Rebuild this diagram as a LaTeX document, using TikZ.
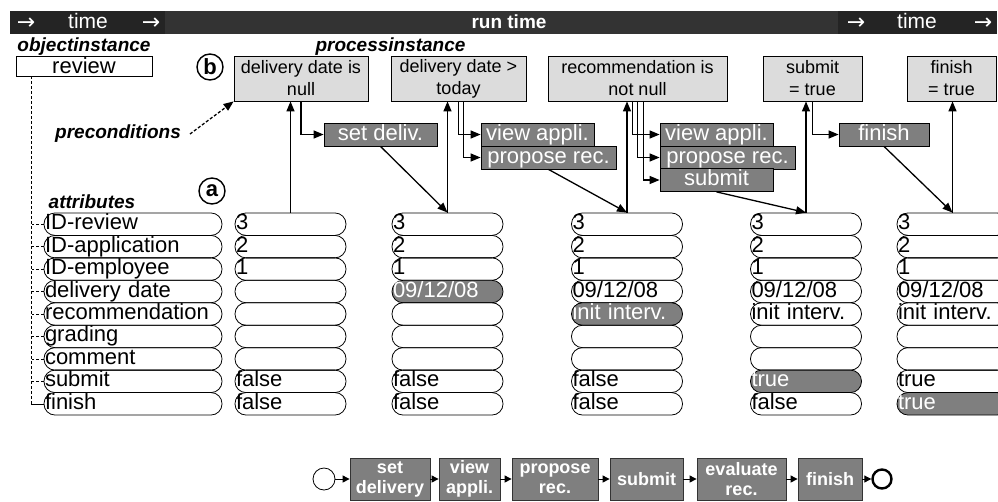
\documentclass[tikz,border=0pt]{standalone}
\usepackage{fontspec}
\setmainfont{Liberation Sans}
\newfontfamily\symfont{DejaVu Sans}
\usetikzlibrary{arrows.meta,calc}

\definecolor{actgray}{HTML}{7F7F7F}
\definecolor{precgray}{HTML}{DCDCDC}
\definecolor{barmid}{HTML}{333333}
\definecolor{barend}{HTML}{242424}

\begin{document}
\begin{tikzpicture}[x=1pt, y=-1pt,
    arr/.style={line width=1.3pt, -{Triangle[length=10pt,width=8pt]}},
    flowarr/.style={line width=1pt, -{Triangle[length=7pt,width=7pt]}},
    bartext/.style={text=white, inner sep=0pt, anchor=base, font=\fontsize{21}{21}\selectfont},
    lbl/.style={inner sep=0pt, font=\bfseries\itshape\fontsize{19}{19}\selectfont},
    letter/.style={circle, draw, line width=1.4pt, minimum size=26pt, inner sep=0pt, font=\bfseries\fontsize{22}{22}\selectfont},
    pre/.style={draw, fill=precgray, line width=0.8pt, inner sep=0pt, minimum height=45pt, align=center, font=\fontsize{18}{22}\selectfont},
    act/.style={draw, fill=actgray, text=white, line width=0.8pt, inner sep=0pt, minimum height=23pt, text height=16pt, text depth=5pt, font=\fontsize{22}{22}\selectfont},
    pill/.style={draw, rounded corners=11pt, line width=0.8pt, inner xsep=1pt, inner ysep=0pt, minimum height=22.45pt, text width=#1, align=left, text height=16pt, text depth=5pt, font=\fontsize{22}{22}\selectfont},
    hl/.style={fill=actgray, text=white},
    nohl/.style={},
    flow/.style={draw=black!80, fill=actgray, text=white, line width=0.8pt, inner sep=0pt, minimum height=42pt, align=center, font=\bfseries\fontsize{18}{20}\selectfont}]
    \clip (0,0) rectangle (998,501);

    % Laiko juosta
    \fill[barmid] (10,11) rectangle (997,34);
    \fill[barend] (10,11) rectangle (165,34);
    \fill[barend] (838,11) rectangle (997,34);
    \foreach \x in {26, 151, 856, 983} {
        \node[bartext, font=\symfont\fontsize{22}{22}\selectfont] (arrow\x) at (\x,29) {→};
    }
    \foreach \x in {88, 917} {
        \node[bartext] (time\x) at (\x,28.5) {time};
    }
    \node[bartext, font=\bfseries\fontsize{19}{19}\selectfont] (run) at (509,28.5) {run time};

    \node[lbl] (objinst) at (84,47) {objectinstance};
    \node[lbl] (procinst) at (390.5,47) {processinstance};
    \node[draw, fill=white, line width=0.8pt, inner sep=0pt, minimum width=136pt, minimum height=20pt, font=\fontsize{22}{22}\selectfont] (review) at (84,66) {review};

    \node[letter] (b) at (210,67) {b};
    \node[letter] (a) at (212,191) {a};

    % Salygos
    \foreach \n/\x/\w/\t in {1/301/134/{delivery date is\\null}, 2/458.5/135/{delivery date >\\today},
        3/637.5/179/{recommendation is\\not null}, 4/812.5/99/{submit\\= true}, 5/951.5/89/{finish\\= true}} {
        \node[pre, minimum width=\w pt] (pre\n) at (\x,78.5) {\t};
    }
    \node[lbl] (prec) at (118,134) {preconditions};
    \draw[arr, dash pattern=on 3pt off 2pt] ([xshift=9pt]prec.east) -- (pre1.south west);

    % Veiklos
    \node[act, minimum width=113pt] (setdel) at (380.5,134.5) {set deliv.};
    \node[act, minimum width=113pt] (view1) at (537.5,134.5) {view appli.};
    \node[act, minimum width=135pt] (prop1) at (548.5,157.5) {propose rec.};
    \node[act, minimum width=113pt] (view2) at (716.5,134.5) {view appli.};
    \node[act, minimum width=135pt] (prop2) at (727.5,157.5) {propose rec.};
    \node[act, minimum width=113pt] (subm) at (716.5,180) {submit};
    \node[act, minimum width=90pt] (fin1) at (884,134.5) {finish};

    \draw[arr] (pre1.south) |- (setdel.west);
    \draw[arr] (pre2.south) |- (view1.west);
    \draw[arr] ([xshift=5pt]pre2.south) |- (prop1.west);
    \draw[arr] ([xshift=-5pt]pre3.south) |- (view2.west);
    \draw[arr] (pre3.south) |- (prop2.west);
    \draw[arr] ([xshift=6pt]pre3.south) |- (subm.west);
    \draw[arr] (pre4.south) |- (fin1.west);

    % Atributai
    \node[lbl] (attrs) at (92,202) {attributes};
    \coordinate (trunk) at ([xshift=16pt]review.south west);
    \foreach \r/\h/\name/\va/\vb/\vc/\vd/\ve in {
        1/0/ID-review/3/3/3/3/3,
        2/0/ID-application/2/2/2/2/2,
        3/0/ID-employee/1/1/1/1/1,
        4/2/delivery date//{09/12/08}/{09/12/08}/{09/12/08}/{09/12/08},
        5/3/recommendation///{init interv.}/{init interv.}/{init interv.},
        6/0/grading/////,
        7/0/comment/////,
        8/4/submit/false/false/false/true/true,
        9/5/finish/false/false/false/false/true} {
        \pgfmathsetmacro\y{224.2+22.45*(\r-1)}
        \node[pill=176pt] (attr\r) at (133,\y) {\name};
        \draw[densely dashed] (attr\r.west) -- (attr\r.west -| trunk);
        \foreach \c/\x/\v in {1/290.5/\va, 2/447.5/\vb, 3/627/\vc, 4/806/\vd, 5/952.5/\ve} {
            \ifnum\c=\h \def\cs{hl}\else\def\cs{nohl}\fi
            \node[pill=109pt, \cs] (v\c-\r) at (\x,\y) {\v};
        }
    }
    \draw[densely dashed] (trunk) |- (attr9.west);

    % Rodykles tarp busenu
    \foreach \c in {1,...,5} {
        \draw[arr] (v\c-1.north) -- (v\c-1.north |- pre\c.south);
    }
    \foreach \s/\c in {setdel/2, prop1/3, subm/4, fin1/5} {
        \draw[arr] (\s.south) -- (v\c-1.north);
    }

    % Procesas
    \node[circle, draw, line width=0.8pt, minimum size=22pt, inner sep=0pt] (start) at (324,479) {};
    \foreach \n/\x/\w/\t in {f1/390/80/{set\\delivery}, f2/469.5/61/{view\\appli.}, f3/555/86/{propose\\rec.},
        f4/646.5/73/submit, f5/741.5/89/{evaluate\\rec.}, f6/830/64/finish} {
        \node[flow, minimum width=\w pt] (\n) at (\x,479) {\t};
    }
    \node[circle, draw, line width=2.4pt, minimum size=19pt, inner sep=0pt] (stop) at (882,479) {};
    \foreach \a/\b in {start/f1, f1/f2, f2/f3, f3/f4, f4/f5, f5/f6, f6/stop} {
        \draw[flowarr] (\a) -- (\b);
    }
\end{tikzpicture}
\end{document}
